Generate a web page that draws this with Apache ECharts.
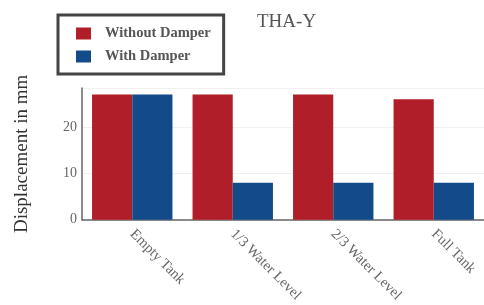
<!DOCTYPE html>
<html>
<head>
<meta charset="utf-8">
<script src="https://cdn.jsdelivr.net/npm/echarts@6/dist/echarts.min.js"></script>
<style>
  * { margin: 0; padding: 0; }
  html, body { width: 484px; height: 305px; background: #fff; overflow: hidden; }
  #renderDom { width: 484px; height: 305px; }
</style>
</head>
<body>
<div id="renderDom"></div>
<script>
// data
var categories = ['Empty Tank', '1/3 Water Level', '2/3 Water Level', 'Full Tank'];
var withoutDamper = [27, 27, 27, 26];
var withDamper = [27, 8, 8, 8];
var yTicks = [0, 10, 20];

var serif = '"Liberation Serif", "DejaVu Serif", serif';
var red = '#B01F29';
var blue = '#134A89';

var myChart = echarts.init(document.getElementById('renderDom'), null, { renderer: 'canvas' });

var option = {
  animation: false,
  backgroundColor: '#fff',
  title: {
    text: 'THA-Y',
    left: 252,
    top: 8,
    textStyle: { fontFamily: serif, fontSize: 19, fontWeight: 'normal', color: '#555' }
  },
  legend: {
    orient: 'vertical',
    left: 58,
    top: 15,
    padding: [11, 13, 10, 18],
    itemGap: 8,
    itemWidth: 15,
    itemHeight: 12,
    borderColor: '#444',
    borderWidth: 3,
    icon: 'rect',
    data: ['Without Damper', 'With Damper'],
    textStyle: { fontFamily: serif, fontSize: 14.5, fontWeight: 'bold', color: '#555', padding: [0, 0, 0, 9] }
  },
  grid: { left: 82, top: 88, width: 406, height: 132, containLabel: false },
  xAxis: {
    type: 'category',
    data: categories,
    axisLine: { lineStyle: { color: '#666', width: 1.5 } },
    axisTick: { show: false },
    axisLabel: {
      rotate: -45,
      margin: 12,
      fontFamily: serif,
      fontSize: 14.5,
      color: '#666',
      interval: 0
    }
  },
  yAxis: {
    type: 'value',
    min: 0,
    max: 28.4,
    interval: 10,
    name: 'Displacement in mm',
    nameLocation: 'middle',
    nameGap: 50,
    nameTextStyle: { fontFamily: serif, fontSize: 19, color: '#333' },
    axisLine: { show: true, lineStyle: { color: '#666', width: 1.5 } },
    axisTick: { show: false },
    axisLabel: {
      fontFamily: serif, fontSize: 14, color: '#666', margin: 5,
      showMaxLabel: false,
      formatter: function (v) { return yTicks.indexOf(v) >= 0 ? String(v) : ''; }
    },
    splitLine: { show: true, lineStyle: { color: '#f0f0f0', width: 1 } }
  },
  series: [
    {
      name: 'Without Damper',
      type: 'bar',
      data: withoutDamper,
      barGap: '0%',
      barCategoryGap: '20%',
      itemStyle: { color: red }
    },
    {
      name: 'With Damper',
      type: 'bar',
      data: withDamper,
      barGap: '0%',
      barCategoryGap: '20%',
      itemStyle: { color: blue }
    }
  ]
};

option && myChart.setOption(option, true);
</script>
</body>
</html>
